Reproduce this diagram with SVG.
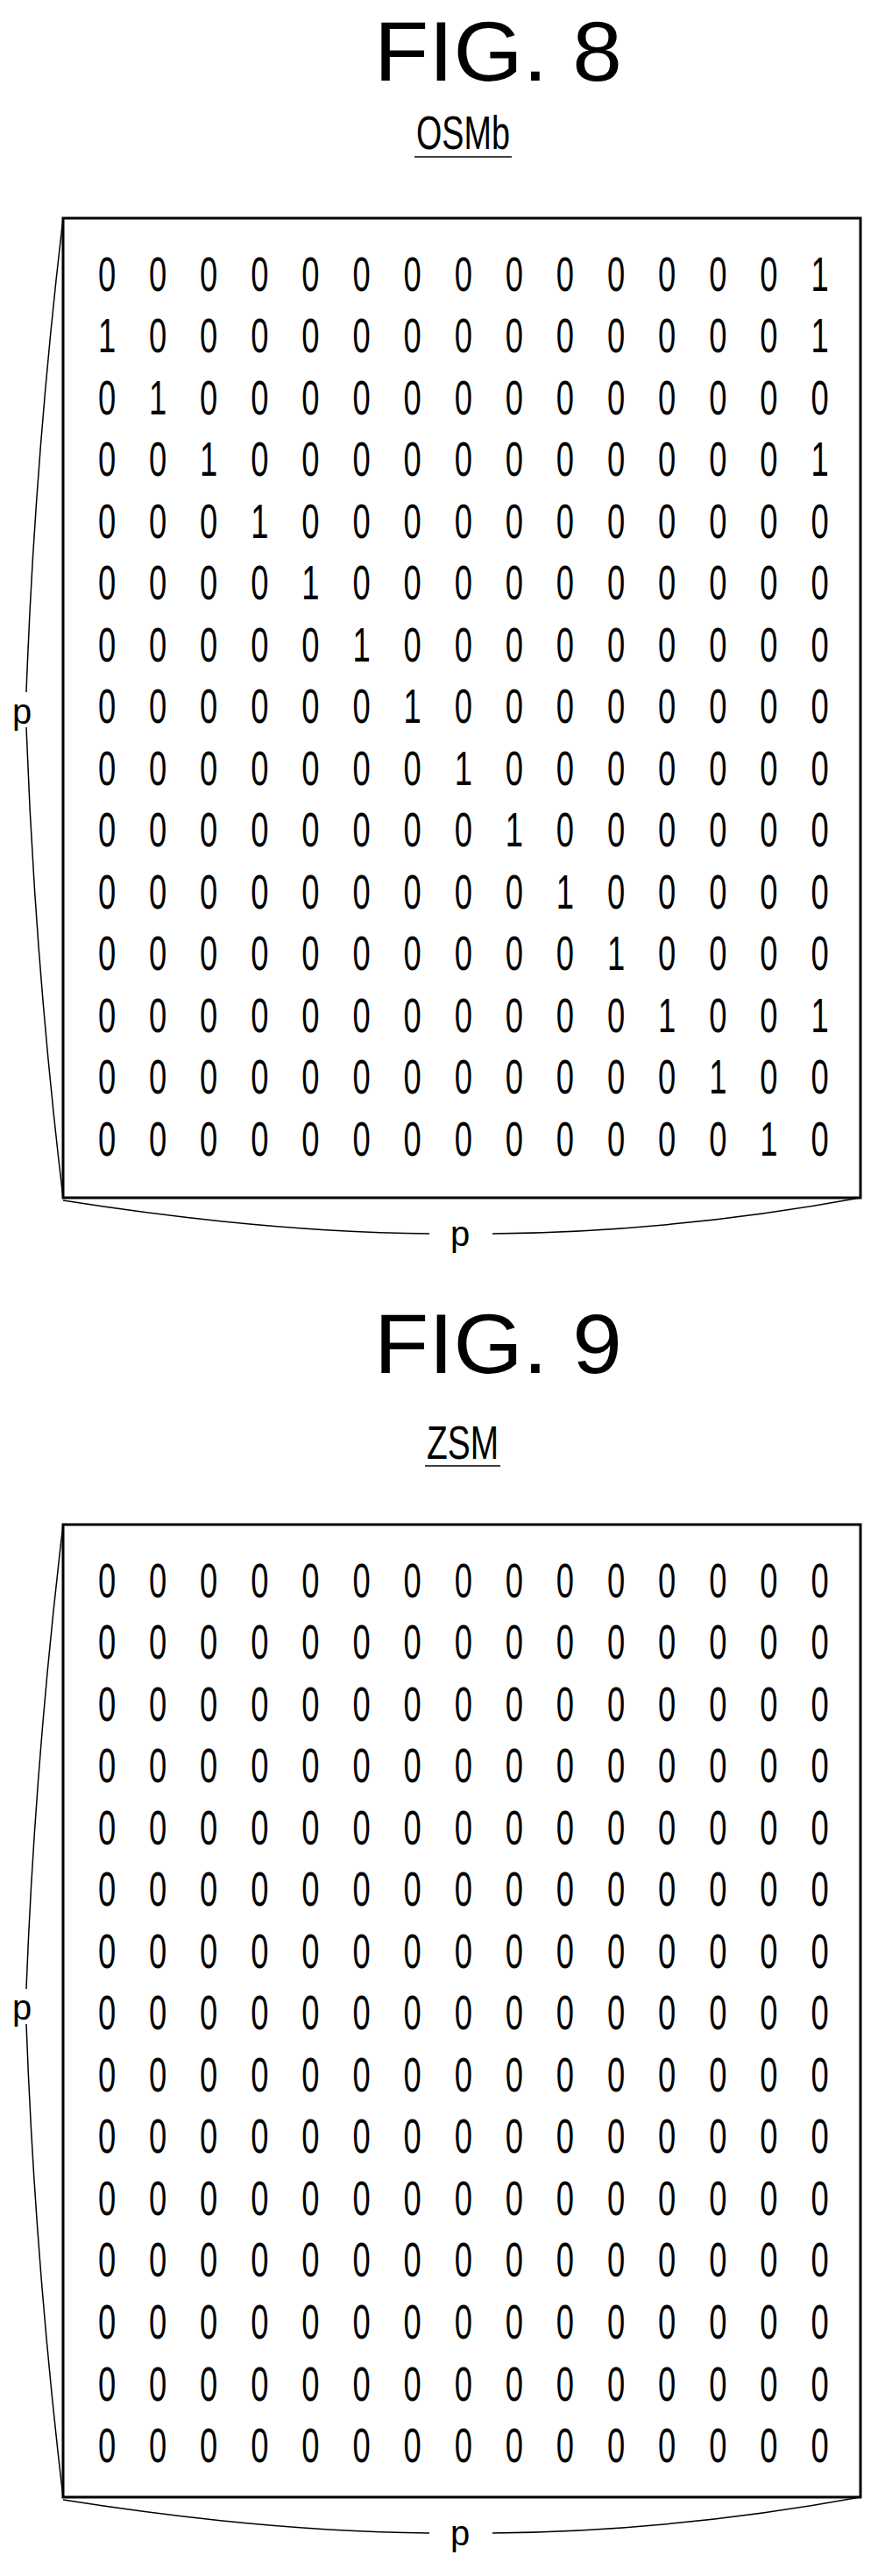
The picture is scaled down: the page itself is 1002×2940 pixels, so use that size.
<svg xmlns="http://www.w3.org/2000/svg" width="1002" height="2940" viewBox="0 0 1002 2940">
<style>
.t{font-family:"Liberation Sans",Arial,sans-serif;fill:#000}
.d{font-family:"Liberation Sans",Arial,sans-serif;font-size:56px;fill:#000;text-anchor:middle}
.b{fill:none;stroke:#000;stroke-width:3}
.l{fill:none;stroke:#000;stroke-width:1.5}
</style>
<rect width="1002" height="2940" fill="#fff"/>
<g id="fig8">
<text class="t" x="427" y="92" font-size="97" textLength="283" lengthAdjust="spacingAndGlyphs">FIG. 8</text>
<text class="t" x="475" y="170" font-size="53" textLength="107" lengthAdjust="spacingAndGlyphs">OSMb</text>
<line class="l" x1="473" y1="179" x2="584" y2="179" stroke-width="2"/>
<rect class="b" x="72" y="249" width="910" height="1118"/>
<path class="l" d="M72,249 Q40,520 30,790 M30,830 Q40,1100 72,1367"/>
<text class="t" x="14" y="826" font-size="40">p</text>
<path class="l" d="M72,1370 Q300,1406 490,1408 M562,1408 Q770,1406 982,1367"/>
<text class="t" x="514" y="1422" font-size="40">p</text>
<g transform="scale(0.65,1)">
<text class="d" y="332" x="187.7 277.1 366.5 455.9 545.3 634.7 724.1 813.5 902.9 992.3 1081.7 1171.1 1260.5 1349.9 1439.3">000000000000001</text>
<text class="d" y="402.5" x="187.7 277.1 366.5 455.9 545.3 634.7 724.1 813.5 902.9 992.3 1081.7 1171.1 1260.5 1349.9 1439.3">100000000000001</text>
<text class="d" y="473" x="187.7 277.1 366.5 455.9 545.3 634.7 724.1 813.5 902.9 992.3 1081.7 1171.1 1260.5 1349.9 1439.3">010000000000000</text>
<text class="d" y="543.5" x="187.7 277.1 366.5 455.9 545.3 634.7 724.1 813.5 902.9 992.3 1081.7 1171.1 1260.5 1349.9 1439.3">001000000000001</text>
<text class="d" y="614" x="187.7 277.1 366.5 455.9 545.3 634.7 724.1 813.5 902.9 992.3 1081.7 1171.1 1260.5 1349.9 1439.3">000100000000000</text>
<text class="d" y="684.5" x="187.7 277.1 366.5 455.9 545.3 634.7 724.1 813.5 902.9 992.3 1081.7 1171.1 1260.5 1349.9 1439.3">000010000000000</text>
<text class="d" y="755" x="187.7 277.1 366.5 455.9 545.3 634.7 724.1 813.5 902.9 992.3 1081.7 1171.1 1260.5 1349.9 1439.3">000001000000000</text>
<text class="d" y="825.5" x="187.7 277.1 366.5 455.9 545.3 634.7 724.1 813.5 902.9 992.3 1081.7 1171.1 1260.5 1349.9 1439.3">000000100000000</text>
<text class="d" y="896" x="187.7 277.1 366.5 455.9 545.3 634.7 724.1 813.5 902.9 992.3 1081.7 1171.1 1260.5 1349.9 1439.3">000000010000000</text>
<text class="d" y="966.5" x="187.7 277.1 366.5 455.9 545.3 634.7 724.1 813.5 902.9 992.3 1081.7 1171.1 1260.5 1349.9 1439.3">000000001000000</text>
<text class="d" y="1037" x="187.7 277.1 366.5 455.9 545.3 634.7 724.1 813.5 902.9 992.3 1081.7 1171.1 1260.5 1349.9 1439.3">000000000100000</text>
<text class="d" y="1107.5" x="187.7 277.1 366.5 455.9 545.3 634.7 724.1 813.5 902.9 992.3 1081.7 1171.1 1260.5 1349.9 1439.3">000000000010000</text>
<text class="d" y="1178" x="187.7 277.1 366.5 455.9 545.3 634.7 724.1 813.5 902.9 992.3 1081.7 1171.1 1260.5 1349.9 1439.3">000000000001001</text>
<text class="d" y="1248.5" x="187.7 277.1 366.5 455.9 545.3 634.7 724.1 813.5 902.9 992.3 1081.7 1171.1 1260.5 1349.9 1439.3">000000000000100</text>
<text class="d" y="1319" x="187.7 277.1 366.5 455.9 545.3 634.7 724.1 813.5 902.9 992.3 1081.7 1171.1 1260.5 1349.9 1439.3">000000000000010</text>
</g>
</g>
<g id="fig9">
<text class="t" x="427" y="1567" font-size="97" textLength="283" lengthAdjust="spacingAndGlyphs">FIG. 9</text>
<text class="t" x="487" y="1665" font-size="53" textLength="82" lengthAdjust="spacingAndGlyphs">ZSM</text>
<line class="l" x1="485" y1="1673" x2="571" y2="1673" stroke-width="2"/>
<rect class="b" x="72" y="1740" width="910" height="1110"/>
<path class="l" d="M72,1740 Q40,2010 30,2270 M30,2310 Q40,2580 72,2850"/>
<text class="t" x="14" y="2305" font-size="40">p</text>
<path class="l" d="M72,2853 Q300,2889 490,2891 M562,2891 Q770,2889 982,2850"/>
<text class="t" x="514" y="2905" font-size="40">p</text>
<g transform="scale(0.65,1)">
<text class="d" y="1823" x="187.7 277.1 366.5 455.9 545.3 634.7 724.1 813.5 902.9 992.3 1081.7 1171.1 1260.5 1349.9 1439.3">000000000000000</text>
<text class="d" y="1893.5" x="187.7 277.1 366.5 455.9 545.3 634.7 724.1 813.5 902.9 992.3 1081.7 1171.1 1260.5 1349.9 1439.3">000000000000000</text>
<text class="d" y="1964" x="187.7 277.1 366.5 455.9 545.3 634.7 724.1 813.5 902.9 992.3 1081.7 1171.1 1260.5 1349.9 1439.3">000000000000000</text>
<text class="d" y="2034.5" x="187.7 277.1 366.5 455.9 545.3 634.7 724.1 813.5 902.9 992.3 1081.7 1171.1 1260.5 1349.9 1439.3">000000000000000</text>
<text class="d" y="2105" x="187.7 277.1 366.5 455.9 545.3 634.7 724.1 813.5 902.9 992.3 1081.7 1171.1 1260.5 1349.9 1439.3">000000000000000</text>
<text class="d" y="2175.5" x="187.7 277.1 366.5 455.9 545.3 634.7 724.1 813.5 902.9 992.3 1081.7 1171.1 1260.5 1349.9 1439.3">000000000000000</text>
<text class="d" y="2246" x="187.7 277.1 366.5 455.9 545.3 634.7 724.1 813.5 902.9 992.3 1081.7 1171.1 1260.5 1349.9 1439.3">000000000000000</text>
<text class="d" y="2316.5" x="187.7 277.1 366.5 455.9 545.3 634.7 724.1 813.5 902.9 992.3 1081.7 1171.1 1260.5 1349.9 1439.3">000000000000000</text>
<text class="d" y="2387" x="187.7 277.1 366.5 455.9 545.3 634.7 724.1 813.5 902.9 992.3 1081.7 1171.1 1260.5 1349.9 1439.3">000000000000000</text>
<text class="d" y="2457.5" x="187.7 277.1 366.5 455.9 545.3 634.7 724.1 813.5 902.9 992.3 1081.7 1171.1 1260.5 1349.9 1439.3">000000000000000</text>
<text class="d" y="2528" x="187.7 277.1 366.5 455.9 545.3 634.7 724.1 813.5 902.9 992.3 1081.7 1171.1 1260.5 1349.9 1439.3">000000000000000</text>
<text class="d" y="2598.5" x="187.7 277.1 366.5 455.9 545.3 634.7 724.1 813.5 902.9 992.3 1081.7 1171.1 1260.5 1349.9 1439.3">000000000000000</text>
<text class="d" y="2669" x="187.7 277.1 366.5 455.9 545.3 634.7 724.1 813.5 902.9 992.3 1081.7 1171.1 1260.5 1349.9 1439.3">000000000000000</text>
<text class="d" y="2739.5" x="187.7 277.1 366.5 455.9 545.3 634.7 724.1 813.5 902.9 992.3 1081.7 1171.1 1260.5 1349.9 1439.3">000000000000000</text>
<text class="d" y="2810" x="187.7 277.1 366.5 455.9 545.3 634.7 724.1 813.5 902.9 992.3 1081.7 1171.1 1260.5 1349.9 1439.3">000000000000000</text>
</g>
</g>
</svg>
